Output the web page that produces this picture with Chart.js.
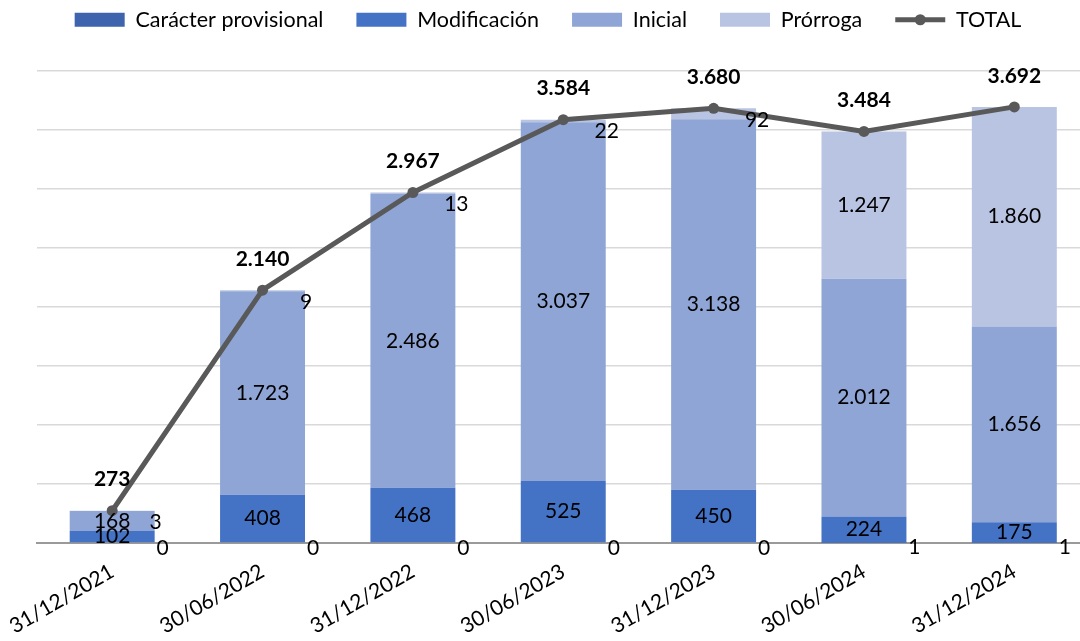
<!DOCTYPE html>
<html>
<head>
<meta charset="utf-8">
<script src="https://cdn.jsdelivr.net/npm/chart.js@4.4.1/dist/chart.umd.min.js"></script>
<style>
html,body{margin:0;padding:0;background:#fff;overflow:hidden;width:1080px;height:641px;}
#wrap{position:absolute;left:0;top:0;width:1095px;height:641px;}
</style>
</head>
<body>
<div id="wrap"><canvas id="c" width="1095" height="641"></canvas></div>
<script>
const categories = ['31/12/2021','30/06/2022','31/12/2022','30/06/2023','31/12/2023','30/06/2024','31/12/2024'];
const caracterProvisional = [0, 0, 0, 0, 0, 1, 1];
const modificacion = [102, 408, 468, 525, 450, 224, 175];
const inicial = [168, 1723, 2486, 3037, 3138, 2012, 1656];
const prorroga = [3, 9, 13, 22, 92, 1247, 1860];
const total = [273, 2140, 2967, 3584, 3680, 3484, 3692];

const FONT = 'Lato, "Open Sans", sans-serif';
const fmt = v => String(v).replace(/\B(?=(\d{3})+(?!\d))/g, '.');

const legendSpace = {
  id: 'legendSpace',
  beforeInit(chart) {
    const lg = chart.legend;
    const orig = lg.fit;
    lg.fit = function () { orig.call(this); this.height += 30; };
  },
  afterLayout(chart) {
    const lg = chart.legend;
    lg.left -= 18;
    lg.right -= 18;
  }
};

const labelPlugin = {
  id: 'labels',
  afterDatasetsDraw(chart) {
    const ctx = chart.ctx;
    ctx.save();
    ctx.fillStyle = '#000';
    ctx.textBaseline = 'middle';
    ctx.textAlign = 'center';
    ctx.font = '21px ' + FONT;
    [0,1,2,3].forEach(di => {
      const meta = chart.getDatasetMeta(di);
      const data = chart.data.datasets[di].data;
      meta.data.forEach((bar, i) => {
        const v = data[i];
        const right = bar.x + bar.width / 2;
        const h = bar.base - bar.y;
        if (di === 0) {
          ctx.fillText(fmt(v), right + 8, bar.base + 5);
        } else if (di === 3 && h < 20) {
          ctx.fillText(fmt(v), right + 1, bar.y + 12);
        } else {
          ctx.fillText(fmt(v), bar.x, (bar.y + bar.base) / 2);
        }
      });
    });
    ctx.font = 'bold 21px ' + FONT;
    const lm = chart.getDatasetMeta(4);
    lm.data.forEach((pt, i) => {
      ctx.fillText(fmt(total[i]), pt.x, pt.y - 31);
    });
    ctx.restore();
  },
  afterDraw(chart) {
    const lg = chart.legend;
    if (!lg || !lg.legendHitBoxes) return;
    const hb = lg.legendHitBoxes[4];
    if (!hb) return;
    const ctx = chart.ctx;
    ctx.save();
    ctx.fillStyle = '#595959';
    ctx.beginPath();
    ctx.arc(hb.left + 25, hb.top + hb.height / 2, 5.5, 0, Math.PI * 2);
    ctx.fill();
    ctx.restore();
  }
};

new Chart(document.getElementById('c'), {
  type: 'bar',
  data: {
    labels: categories,
    datasets: [
      { label: 'Carácter provisional', data: caracterProvisional, backgroundColor: '#3e64ad', stack: 's', order: 2 },
      { label: 'Modificación', data: modificacion, backgroundColor: '#4472c4', stack: 's', order: 2 },
      { label: 'Inicial', data: inicial, backgroundColor: '#8fa5d5', stack: 's', order: 2 },
      { label: 'Prórroga', data: prorroga, backgroundColor: '#b9c4e3', stack: 's', order: 2 },
      { label: 'TOTAL', data: total, type: 'line', borderColor: '#595959', backgroundColor: '#595959',
        borderWidth: 5, pointRadius: 5.5, pointBackgroundColor: '#595959', pointBorderWidth: 0, order: 1, tension: 0 }
    ]
  },
  options: {
    responsive: false,
    animation: false,
    events: [],
    datasets: { bar: { barPercentage: 0.565, categoryPercentage: 1 } },
    layout: { padding: { left: 37, top: -24, right: 0, bottom: -6 } },
    plugins: {
      tooltip: { enabled: false },
      legend: {
        position: 'top',
        labels: {
          font: { family: FONT, size: 21.5 },
          color: '#000',
          boxWidth: 50,
          boxHeight: 14,
          padding: 33,
          generateLabels(chart) {
            return chart.data.datasets.map((ds, i) => ({
              text: ds.label,
              fillStyle: ds.backgroundColor,
              strokeStyle: i === 4 ? '#595959' : ds.backgroundColor,
              lineWidth: i === 4 ? 5 : 0,
              pointStyle: i === 4 ? 'line' : 'rect',
              fontColor: '#000',
              datasetIndex: i,
              hidden: false
            }));
          },
          usePointStyle: true,
          pointStyleWidth: 50
        }
      }
    },
    scales: {
      x: {
        stacked: true,
        grid: { display: false },
        border: { color: '#9a9a9a', width: 2 },
        ticks: { color: '#000', font: { family: FONT, size: 21 }, minRotation: 30, maxRotation: 30, padding: 8 }
      },
      y: {
        stacked: true,
        min: 0, max: 4000,
        ticks: { display: false, stepSize: 500 },
        border: { display: false },
        grid: { color: '#d9d9d9', lineWidth: 1.5, drawTicks: false }
      }
    }
  },
  plugins: [legendSpace, labelPlugin]
});
</script>
</body>
</html>
